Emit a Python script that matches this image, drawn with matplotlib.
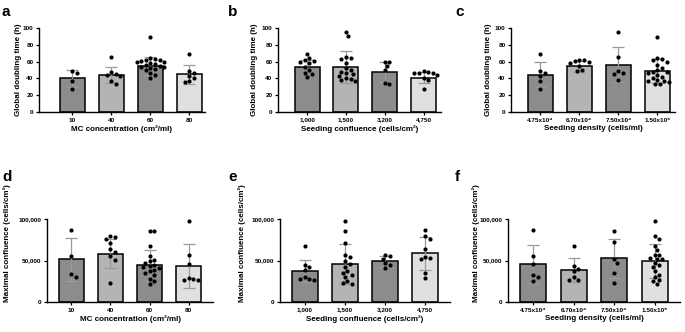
import numpy as np
import matplotlib
matplotlib.use("Agg")
import matplotlib.pyplot as plt
from matplotlib.ticker import FuncFormatter

plt.rcParams['font.family'] = ['Liberation Sans', 'DejaVu Sans']

# ---------------- data ----------------
cats_mc = ["10", "40", "60", "80"]
cats_conf = ["1,000", "1,500", "3,200", "4,750"]
cats_dens = ["4.75x10\u2074", "6.70x10\u2074", "7.50x10\u2074", "1.50x10\u2075"]

# a: doubling time vs MC concentration
a_pts = [[49, 47, 37, 27],
         [66, 48, 45, 44, 43, 37, 33],
         [89, 64, 63, 62, 62, 61, 60, 59, 58, 57, 56, 55, 54, 53, 52, 51, 50, 46, 44, 40],
         [69, 49, 47, 43, 40, 37, 36]]
a_mean = [40, 44, 55, 45]
a_sd = [10, 10, 11, 11.5]

# b: doubling time vs seeding confluence
b_pts = [[69, 64, 62, 61, 59, 58, 54, 50, 47, 45, 42],
         [95, 90, 66, 64, 63, 58, 52, 50, 48, 46, 45, 43, 40, 39, 38, 37],
         [60, 60, 55, 50, 35, 33],
         [49, 48, 47, 47, 46, 44, 41, 38, 27]]
b_mean = [54, 54, 47.5, 41]
b_sd = [8.5, 19, 12, 7]

# c: doubling time vs seeding density
c_pts = [[69, 49, 47, 43, 37, 27],
         [62, 62, 61, 59, 58, 55, 50, 49],
         [95, 65, 49, 47, 45, 38],
         [89, 64, 63, 62, 59, 56, 52, 50, 48, 48, 47, 44, 42, 40, 38, 37, 37, 36, 33, 33]]
c_mean = [44.5, 54.5, 56.5, 49]
c_sd = [14.5, 6.5, 21, 14]

# d: maximal confluence vs MC concentration
d_pts = [[87000, 56000, 34000, 30000],
         [80000, 78000, 76000, 71000, 64000, 60000, 55000, 51000, 23000],
         [86000, 86000, 67000, 55000, 51000, 49000, 47000, 45000, 43000, 42000,
          41000, 39000, 37000, 35000, 33000, 28000, 25000, 22000],
         [97000, 57000, 46000, 29000, 28000, 27000, 27000]]
d_mean = [51500, 58000, 45000, 43500]
d_sd = [26000, 17500, 18000, 26500]

# e: maximal confluence vs seeding confluence
e_pts = [[68000, 45000, 42000, 38000, 30000, 28000, 28000, 27000],
         [97000, 86000, 71000, 57000, 54000, 50000, 46000, 42000, 37000, 35000,
          33000, 30000, 25000, 23000, 22000],
         [57000, 55000, 52000, 47000, 44000, 41000],
         [87000, 79000, 76000, 64000, 54000, 53000, 52000, 35000, 29000]]
e_mean = [37500, 46000, 49000, 58500]
e_sd = [13500, 24000, 6500, 19500]

# f: maximal confluence vs seeding density
f_pts = [[87000, 56000, 46000, 33000, 30000, 25000],
         [68000, 43000, 40000, 37000, 30000, 27000, 27000],
         [86000, 72000, 52000, 47000, 35000, 23000],
         [97000, 79000, 76000, 68000, 63000, 57000, 57000, 53000, 52000, 52000,
          47000, 44000, 42000, 37000, 33000, 30000, 27000, 25000, 22000]]
f_mean = [46000, 38500, 52500, 49500]
f_sd = [23000, 14000, 24000, 20000]

ylab_dt = "Global doubling time (h)"
ylab_mc = "Maximal confluence (cells/cm\u00b2)"
xlab_mc = "MC concentration (cm\u00b2/ml)"
xlab_conf = "Seeding confluence (cells/cm\u00b2)"
xlab_dens = "Seeding density (cells/ml)"

bar_colors = ["#8c8c8c", "#b4b4b4", "#8c8c8c", "#e0e0e0"]

W, H = 685, 332
fig = plt.figure(figsize=(W / 100, H / 100), dpi=100)


def px_axes(x0, x1, ytop, ybot):
    return fig.add_axes([x0 / W, 1 - ybot / H, (x1 - x0) / W, (ybot - ytop) / H])


def swarm(vals, yrange, ax_h_px, spacing_px):
    # simple deterministic beeswarm, offsets in category units
    d_px = 4.6
    order = np.argsort(vals)[::-1]
    placed = []
    offs = np.zeros(len(vals))
    for i in order:
        ypx = vals[i] / yrange * ax_h_px
        cand = [0.0]
        for k in range(1, 12):
            cand += [k * 0.5, -k * 0.5]
        for c in cand:
            xpx = c * d_px
            ok = True
            for (px, py) in placed:
                if (px - xpx) ** 2 + (py - ypx) ** 2 < d_px ** 2:
                    ok = False
                    break
            if ok:
                placed.append((xpx, ypx))
                offs[i] = xpx / spacing_px
                break
    return offs


def panel(x0, x1, ytop, ybot, pts, means, sds, cats, xlabel, ylabel, letter,
          ymax, yticks, yfmt, xlim, letter_xy, ylab_xpx, ylab_y):
    ax = px_axes(x0, x1, ytop, ybot)
    x = np.arange(len(cats))
    ax.bar(x, means, width=0.64, color=bar_colors, edgecolor="black",
           linewidth=1.1, zorder=2)
    ax.errorbar(x, means, yerr=sds, fmt="none", ecolor="#9a9a9a",
                elinewidth=0.9, capsize=4.2, capthick=0.9, zorder=3)
    ax_h = ybot - ytop
    spacing = (x1 - x0) / (xlim[1] - xlim[0])
    for i, p in enumerate(pts):
        p = np.array(p, dtype=float)
        offs = swarm(p, ymax, ax_h, spacing)
        ax.scatter(x[i] + offs, p, s=9, color="black", zorder=4, linewidths=0)
    ax.set_xlim(*xlim)
    ax.set_ylim(0, ymax)
    ax.set_yticks(yticks)
    ax.yaxis.set_major_formatter(FuncFormatter(yfmt))
    ax.set_xticks(x)
    ax.set_xticklabels(cats)
    for s in ["top", "right"]:
        ax.spines[s].set_visible(False)
    for s in ["left", "bottom"]:
        ax.spines[s].set_linewidth(1.0)
    ax.tick_params(axis="both", labelsize=4.6, width=0.9, length=2.5, pad=1.5)
    for lab in ax.get_xticklabels() + ax.get_yticklabels():
        lab.set_fontweight("bold")
    ax.set_xlabel(xlabel, fontsize=5.8, fontweight="bold", labelpad=2)
    ax.set_ylabel(ylabel, fontsize=5.8, fontweight="bold")
    ax.yaxis.set_label_coords(-(x0 - ylab_xpx) / (x1 - x0), ylab_y)
    ax.yaxis.label.set_va("center")
    fig.text(letter_xy[0] / W, 1 - letter_xy[1] / H, letter, fontsize=11,
             fontweight="bold", ha="left", va="center")
    return ax


fmt_int = lambda v, p: f"{int(v)}"
fmt_comma = lambda v, p: f"{int(v):,}"

top_ticks = [0, 20, 40, 60, 80, 100]
bot_ticks = [0, 50000, 100000]

panel(39, 205, 28, 112, a_pts, a_mean, a_sd, cats_mc, xlab_mc, ylab_dt, "a",
      100, top_ticks, fmt_int, (-0.85, 3.4), (2, 12), 19, 0.5)
panel(278, 441, 28, 112, b_pts, b_mean, b_sd, cats_conf, xlab_conf, ylab_dt, "b",
      100, top_ticks, fmt_int, (-0.75, 3.45), (228, 12), 255, 0.5)
panel(511, 675, 28, 112, c_pts, c_mean, c_sd, cats_dens, xlab_dens, ylab_dt, "c",
      100, top_ticks, fmt_int, (-0.75, 3.45), (455, 12), 488, 0.5)
panel(47, 213, 219, 302, d_pts, d_mean, d_sd, cats_mc, xlab_mc, ylab_mc, "d",
      100000, bot_ticks, fmt_comma, (-0.62, 3.62), (2, 177), 7, 0.71)
panel(280, 450, 219, 302, e_pts, e_mean, e_sd, cats_conf, xlab_conf, ylab_mc, "e",
      100000, bot_ticks, fmt_comma, (-0.62, 3.62), (228, 177), 242, 0.71)
panel(508, 680, 219, 302, f_pts, f_mean, f_sd, cats_dens, xlab_dens, ylab_mc, "f",
      100000, bot_ticks, fmt_comma, (-0.62, 3.62), (455, 177), 476, 0.71)

fig.savefig("out.png", dpi=100)
